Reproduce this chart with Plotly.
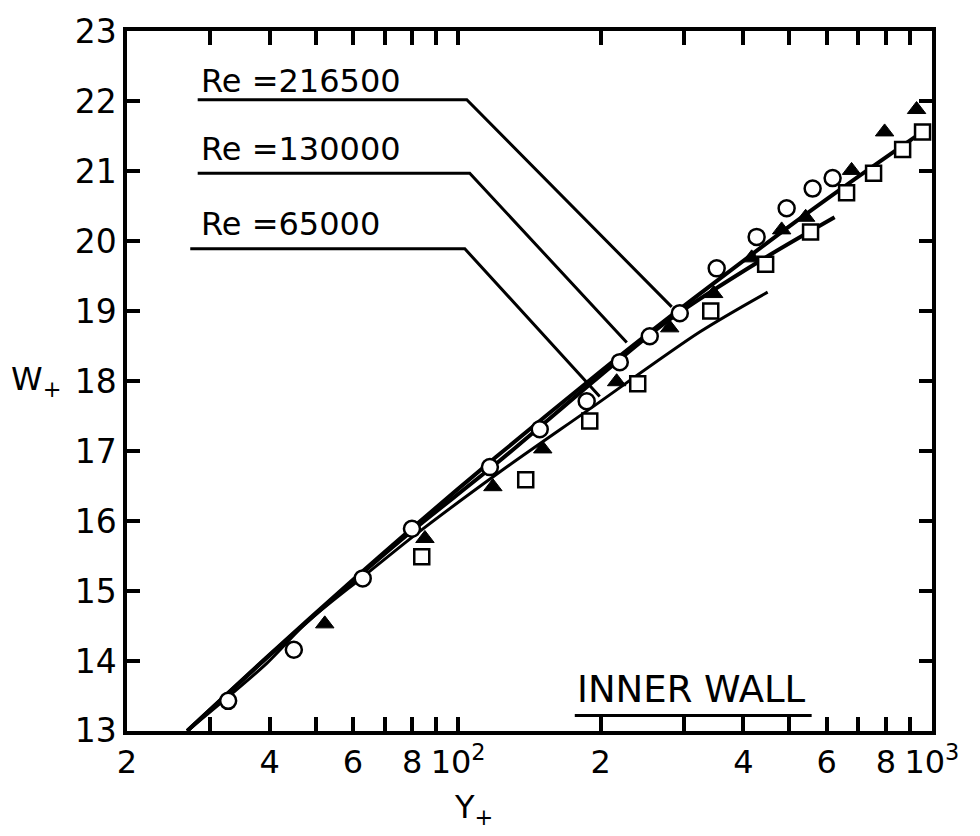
import numpy as np
import plotly.graph_objects as go

# ---- measured points (Y+ , W+) ----
circle_y_plus = [32.7, 45.0, 62.9, 79.9, 116.7, 148.7, 186.8, 219.4, 253.8, 293.7,
                 351.4, 426.7, 493.7, 560.2, 617.3]
circle_w_plus = [13.43, 14.16, 15.18, 15.89, 16.77, 17.31, 17.71, 18.27, 18.64, 18.97,
                 19.61, 20.06, 20.47, 20.75, 20.90]

triangle_y_plus = [52.3, 85.1, 118.4, 150.9, 216.1, 279.7, 346.3, 416.5, 481.9, 541.5,
                   676.9, 794.8, 928.4]
triangle_w_plus = [14.53, 15.75, 16.49, 17.03, 17.99, 18.76, 19.25, 19.76, 20.16, 20.34,
                   21.01, 21.56, 21.88]

square_y_plus = [83.8, 138.9, 189.6, 239.4, 341.4, 445.8, 554.6, 660.7, 753.3, 867.6, 955.7]
square_w_plus = [15.49, 16.59, 17.43, 17.96, 19.00, 19.67, 20.13, 20.69, 20.97, 21.31, 21.56]

# ---- fitted profiles for each Reynolds number ----
re216500_y_plus = [26.8, 40, 60, 80, 120, 200, 280, 350, 500, 660, 955]
re216500_w_plus = [13.0, 14.09, 15.16, 15.90, 16.91, 18.14, 18.92, 19.42, 20.21, 20.80, 21.56]

re130000_y_plus = [26.8, 40, 60, 80, 122.4, 199.0, 279.7, 439.4, 623.3]
re130000_w_plus = [13.0, 14.08, 15.14, 15.86, 16.86, 18.07, 18.88, 19.74, 20.34]

re65000_y_plus = [26.8, 39.5, 47.9, 62.9, 81.8, 122.4, 186.8, 323.5, 450.2]
re65000_w_plus = [13.0, 13.97, 14.55, 15.20, 15.82, 16.70, 17.57, 18.70, 19.27]

# ---- label leader lines: underline start, underline end, tip on the curve ----
leader_216500_x = [28.2, 104.3, 282.4]
leader_216500_y = [22.02, 22.02, 19.06]
leader_130000_x = [28.2, 105.8, 227.0]
leader_130000_y = [20.97, 20.97, 18.55]
leader_65000_x = [27.2, 103.3, 199.0]
leader_65000_y = [19.89, 19.89, 17.78]

# ---- axis ticks ----
x_tick_vals = [20, 30, 40, 50, 60, 70, 80, 90, 100, 200, 300, 400, 500, 600, 700, 800, 900, 1000]
x_tick_text = ["2", "", "4", "", "6", "", "8", "", "10<sup>2</sup>",
               "2", "", "4", "", "6", "", "8", "", "10<sup>3</sup>"]
y_tick_vals = list(range(13, 24))
y_tick_text = [str(v) for v in y_tick_vals]

FONT = "DejaVu Sans"
INK = "black"

fig = go.Figure()

for xs, ys, w in [(re216500_y_plus, re216500_w_plus, 4),
                  (re130000_y_plus, re130000_w_plus, 4),
                  (re65000_y_plus, re65000_w_plus, 3)]:
    fig.add_trace(go.Scatter(x=xs, y=ys, mode="lines",
                             line=dict(color=INK, width=w, shape="spline", smoothing=0.8),
                             hoverinfo="skip", showlegend=False))

for xs, ys in [(leader_216500_x, leader_216500_y),
               (leader_130000_x, leader_130000_y),
               (leader_65000_x, leader_65000_y)]:
    fig.add_trace(go.Scatter(x=xs, y=ys, mode="lines",
                             line=dict(color=INK, width=3),
                             hoverinfo="skip", showlegend=False))

fig.add_trace(go.Scatter(x=circle_y_plus, y=circle_w_plus, mode="markers",
                         marker=dict(symbol="circle", size=16, color="white",
                                     line=dict(color=INK, width=2.5)),
                         showlegend=False))
fig.add_trace(go.Scatter(x=triangle_y_plus, y=triangle_w_plus, mode="markers",
                         marker=dict(symbol="triangle-up", size=16, color=INK,
                                     line=dict(color=INK, width=1)),
                         showlegend=False))
fig.add_trace(go.Scatter(x=square_y_plus, y=square_w_plus, mode="markers",
                         marker=dict(symbol="square", size=15, color="white",
                                     line=dict(color=INK, width=2.5)),
                         showlegend=False))

# Reynolds-number labels sitting on their leader lines
for label, yv in [("Re =216500", 22.29), ("Re =130000", 21.32), ("Re =65000", 20.25)]:
    fig.add_annotation(x=np.log10(28.4), y=yv, xref="x", yref="y", text=label,
                       showarrow=False, xanchor="left", yanchor="middle",
                       font=dict(family=FONT, size=32, color=INK))

# wall label with underline
fig.add_annotation(x=np.log10(176.3), y=13.59, xref="x", yref="y", text="INNER WALL",
                   showarrow=False, xanchor="left", yanchor="middle",
                   font=dict(family=FONT, size=37, color=INK))
fig.add_trace(go.Scatter(x=[176.3, 557.5], y=[13.22, 13.22], mode="lines",
                         line=dict(color=INK, width=3), hoverinfo="skip", showlegend=False))

# axis titles
fig.add_annotation(x=-0.08, y=0.5, xref="paper", yref="paper",
                   text="W<sub>+</sub>", showarrow=False, xanchor="right", yanchor="middle",
                   font=dict(family=FONT, size=32, color=INK))
fig.add_annotation(x=0.43, y=-0.112, xref="paper", yref="paper",
                   text="Y<sub>+</sub>", showarrow=False, xanchor="center", yanchor="middle",
                   font=dict(family=FONT, size=32, color=INK))

fig.update_xaxes(type="log", range=[np.log10(20), 3.0003],
                 tickvals=x_tick_vals, ticktext=x_tick_text,
                 ticks="inside", ticklen=14, tickwidth=3.5, tickcolor=INK,
                 showline=True, linecolor=INK, linewidth=3.5, mirror="ticks",
                 showgrid=False, zeroline=False, ticklabeloverflow="allow",
                 tickfont=dict(family=FONT, size=32, color=INK))
fig.update_yaxes(range=[12.999, 23.002], tickvals=y_tick_vals, ticktext=y_tick_text,
                 ticks="inside", ticklen=13, tickwidth=3.5, tickcolor=INK,
                 showline=True, linecolor=INK, linewidth=3.5, mirror="ticks",
                 showgrid=False, zeroline=False, ticklabeloverflow="allow",
                 tickfont=dict(family=FONT, size=33, color=INK))

fig.update_layout(width=980, height=836,
                  margin=dict(l=127, r=48, t=17, b=105),
                  plot_bgcolor="white", paper_bgcolor="white")

fig.write_html("out.html")
